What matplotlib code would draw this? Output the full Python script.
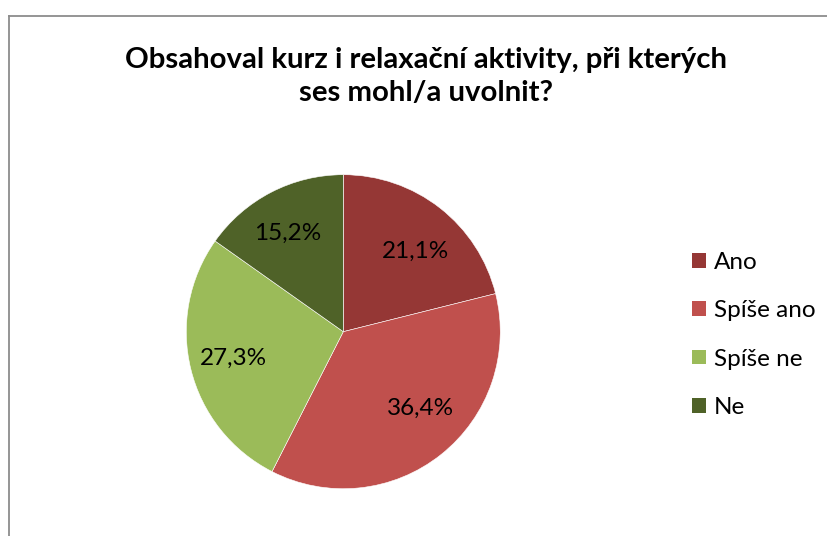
import matplotlib

matplotlib.use("Agg")
import matplotlib.pyplot as plt
from matplotlib.lines import Line2D
from matplotlib.patches import Patch

plt.rcParams["font.family"] = ["Lato", "DejaVu Sans"]

categories = ["Ano", "Spíše ano", "Spíše ne", "Ne"]
shares = [21.1, 36.4, 27.3, 15.2]
colors = ["#953735", "#C0504D", "#9BBB59", "#4F6228"]
title = "Obsahoval kurz i relaxační aktivity, při kterých\nses mohl/a uvolnit?"

# data-label placement (Excel "best fit"), in units of the pie radius
label_pos = [(0.463, 0.510), (0.489, -0.488), (-0.701, -0.169), (-0.354, 0.627)]

W, H = 828, 536
fig = plt.figure(figsize=(W / 100, H / 100), dpi=100)

# chart frame (cropped Excel border: only top and left visible)
fig.add_artist(Line2D([8.5 / W, 8.5 / W], [0, 1 - 16 / H], color="#8c8c8c", lw=1.3,
                      transform=fig.transFigure))
fig.add_artist(Line2D([8.5 / W, 1], [1 - 16 / H, 1 - 16 / H], color="#8c8c8c", lw=1.3,
                      transform=fig.transFigure))

cx, cy, r = 343.3, 331.7, 157
ax = fig.add_axes([(cx - r) / W, 1 - (cy + r) / H, 2 * r / W, 2 * r / H])
wedges, texts = ax.pie(
    shares, colors=colors, startangle=90, counterclock=False, radius=1,
    wedgeprops=dict(edgecolor="white", linewidth=0.4),
)
for (lx, ly), v in zip(label_pos, shares):
    ax.text(lx, ly, f"{v:.1f}%".replace(".", ","),
            ha="center", va="center", fontsize=17.5, color="black")
ax.set_xlim(-1, 1)
ax.set_ylim(-1, 1)
ax.set_aspect("equal")
ax.axis("off")

fig.text(426 / W, 1 - 76.5 / H, title, ha="center", va="center", fontsize=21.2,
         fontweight="bold", linespacing=1.3)

handles = [Patch(facecolor=c, edgecolor="none") for c in colors]
fig.legend(handles, categories, loc="center left", bbox_to_anchor=(680 / W, 1 - 335 / H),
           frameon=False, fontsize=17.5, handlelength=0.55, handleheight=0.55,
           handletextpad=0.35, labelspacing=1.12, borderpad=0)

fig.savefig("out.png", dpi=100)
